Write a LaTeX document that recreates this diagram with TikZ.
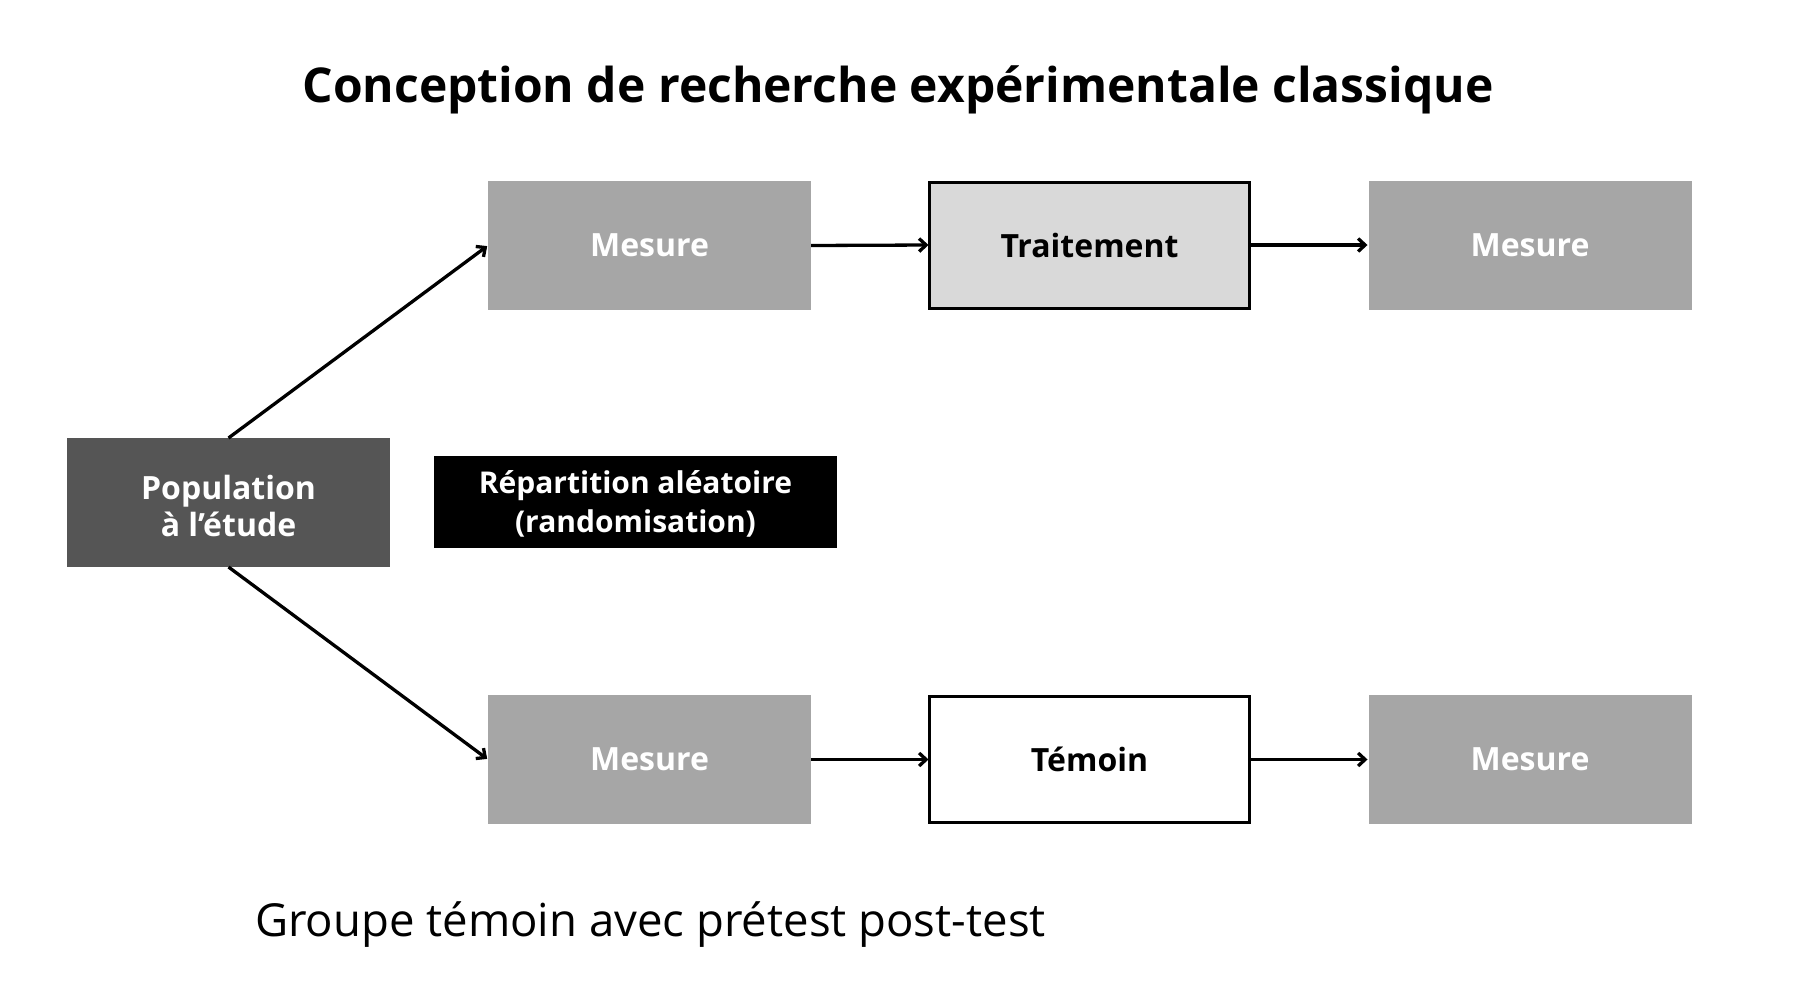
\documentclass[tikz,border=0pt]{standalone}
\usepackage{fontspec}
\usetikzlibrary{arrows.meta}
\setmainfont{Open Sans}
\begin{document}
\begin{tikzpicture}[x=1pt,y=-1pt,
  box/.style={rectangle,inner sep=0pt,outer sep=0pt,align=center,font=\fontsize{32}{38}\selectfont\bfseries},
  mes/.style={box,fill=grayM,text=white,minimum width=323pt,minimum height=129pt},
  frm/.style={box,draw=black,line width=3pt,text=black,minimum width=320pt,minimum height=126pt},
  arr/.style={-{Straight Barb[length=7pt,width=13pt]},line width=3.3pt,shorten >=1pt}]
\definecolor{grayM}{HTML}{A6A6A6}
\definecolor{grayD}{HTML}{555555}
\definecolor{grayL}{HTML}{D9D9D9}
\useasboundingbox[fill=white] (0,0) rectangle (1798,988);
\node[font=\fontsize{48}{52}\selectfont\bfseries,anchor=base,inner sep=0pt] (title) at (898,102) {Conception de recherche expérimentale classique};
\node[box,fill=grayD,text=white,minimum width=323pt,minimum height=129pt] (pop) at (228.5,502.5) {\raisebox{-3.5pt}[\height][\depth]{\shortstack{Population\\[1pt]à l’étude}}};
\node[box,fill=black,text=white,minimum width=403pt,minimum height=92pt,font=\fontsize{30}{38}\selectfont\bfseries] (rep) at (635.5,502) {\raisebox{-2pt}[\height][\depth]{\shortstack{Répartition aléatoire\\[6pt](randomisation)}}};
\node[mes] (m1) at (649.5,245.5) {Mesure};
\node[frm,fill=grayL] (tr) at (1089.5,245) {Traitement};
\node[mes] (m2) at (1530,245) {Mesure};
\node[mes] (m3) at (649.5,759.5) {Mesure};
\node[frm,fill=white] (tem) at (1089.5,759.5) {Témoin};
\node[mes] (m4) at (1530,759.5) {Mesure};
\node[anchor=west,font=\fontsize{45.5}{50}\selectfont,inner sep=0pt] (foot) at (255,925) {Groupe témoin avec prétest post-test};
\draw[arr] (pop.north) -- (m1.west);
\draw[arr] (pop.south) -- (m3.west);
\draw[arr] (m1.east) -- (tr.west);
\draw[arr] (tr.east) -- (m2.west);
\draw[arr] (m3.east) -- (tem.west);
\draw[arr] (tem.east) -- (m4.west);
\end{tikzpicture}
\end{document}
